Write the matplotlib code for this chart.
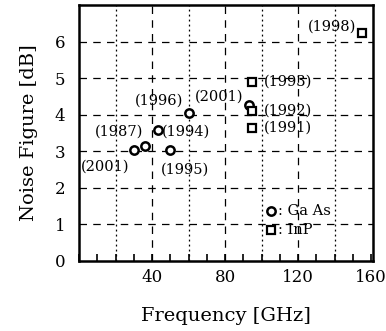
import matplotlib
matplotlib.use("Agg")
import matplotlib.pyplot as plt
from matplotlib.ticker import MultipleLocator

plt.rcParams['font.family'] = ['DejaVu Serif']

# GaAs devices (circles)
gaas_freq = [30, 36, 43, 50, 60, 93]
gaas_nf = [3.02, 3.13, 3.57, 3.02, 4.04, 4.25]
gaas_year = ['(2001)', '(1987)', '(1994)', '(1995)', '(1996)', '(2001)']

# InP devices (squares)
inp_freq = [95, 95, 95, 155]
inp_nf = [4.9, 4.1, 3.63, 6.24]
inp_year = ['(1993)', '(1992)', '(1991)', '(1998)']

# label placement (x, y, horizontal alignment)
gaas_lab_pos = [(14, 2.58, 'center'), (22, 3.54, 'center'), (45.5, 3.54, 'left'),
                (58, 2.5, 'center'), (44, 4.37, 'center'), (77, 4.5, 'center')]
inp_lab_pos = [(101, 4.9, 'left'), (101, 4.1, 'left'), (101, 3.63, 'left'),
               (138.5, 6.4, 'center')]

fig = plt.figure(figsize=(3.86, 3.31), dpi=100)
ax = fig.add_axes([0.205, 0.212, 0.761, 0.773])

# grid: dashed at major, dotted at half
for v in [40, 80, 120]:
    ax.axvline(v, color='black', lw=0.9, ls=(0, (6, 5)), zorder=1)
for v in [20, 60, 100, 140]:
    ax.axvline(v, color='black', lw=0.9, ls=(0, (1.5, 2.5)), zorder=1)
for v in range(1, 7):
    ax.axhline(v, color='black', lw=0.9, ls=(0, (6, 5)), zorder=1)

ax.plot(gaas_freq, gaas_nf, 'o', ms=6, mfc='white', mec='black', mew=1.8, zorder=3)
ax.plot(inp_freq, inp_nf, 's', ms=6, mfc='white', mec='black', mew=1.6, zorder=3)

for txt, (x, y, ha) in zip(gaas_year, gaas_lab_pos):
    ax.text(x, y, txt, fontsize=10.5, ha=ha, va='center', zorder=4)
for txt, (x, y, ha) in zip(inp_year, inp_lab_pos):
    ax.text(x, y, txt, fontsize=10.5, ha=ha, va='center', zorder=4)

# legend
ax.plot([105], [1.35], 'o', ms=6, mfc='white', mec='black', mew=1.8, zorder=3)
ax.text(109, 1.35, ': Ga As', fontsize=10.5, va='center')
ax.plot([105], [0.85], 's', ms=6, mfc='white', mec='black', mew=1.6, zorder=3)
ax.text(109, 0.85, ': InP', fontsize=10.5, va='center')

ax.set_xlim(0, 161)
ax.set_ylim(0, 7)
ax.set_xticks([40, 80, 120, 160])
ax.set_yticks(range(0, 7))
ax.xaxis.set_minor_locator(MultipleLocator(10))
ax.tick_params(axis='x', which='both', direction='in', length=5, width=1.2, pad=6, labelsize=12)
ax.tick_params(axis='y', which='both', length=0, pad=10, labelsize=12)
for s in ax.spines.values():
    s.set_linewidth(1.8)

ax.set_xlabel('Frequency [GHz]', fontsize=14, labelpad=15)
ax.set_ylabel('Noise Figure [dB]', fontsize=14, labelpad=12)

fig.savefig('out.png', dpi=100)
